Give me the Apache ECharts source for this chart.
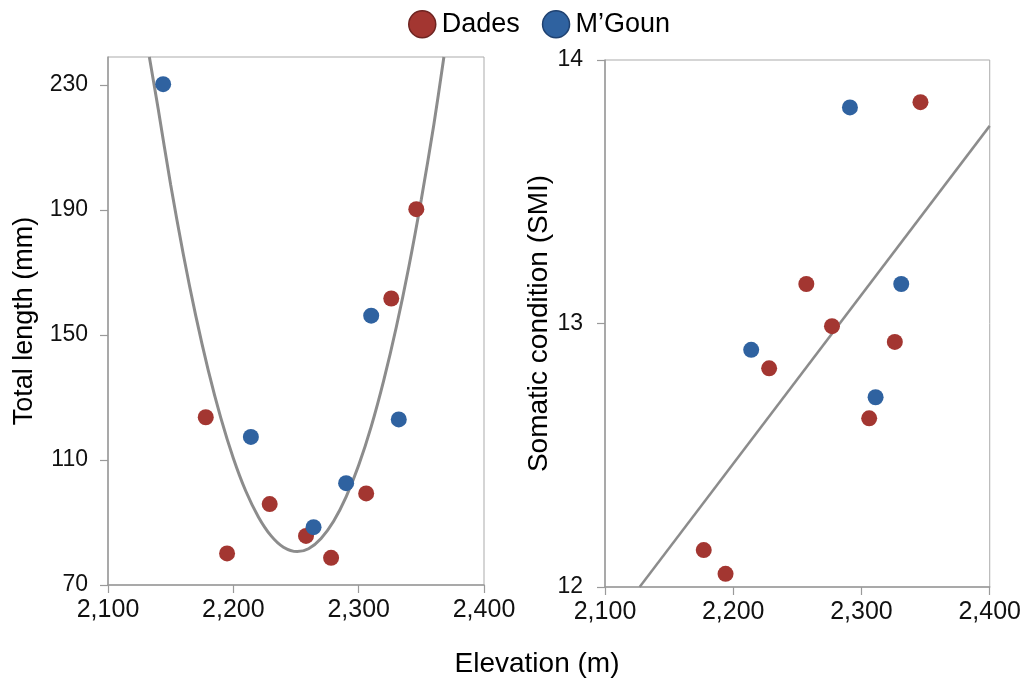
<!DOCTYPE html>
<html>
<head>
<meta charset="utf-8">
<script src="https://cdn.jsdelivr.net/npm/echarts@6/dist/echarts.min.js"></script>
<style>
html,body{margin:0;padding:0;background:#fff;}
#chart{width:1024px;height:686px;}
</style>
</head>
<body>
<div id="chart"></div>
<script>
// ---- Data ----
const seriesNames = ['Dades', 'M\u2019Goun'];

// Left panel: Total length (mm) vs Elevation (m)
const dadesElevLen = [2178, 2195, 2229, 2258, 2278, 2306, 2326, 2346];
const dadesLength  = [123.7, 80.1, 95.9, 85.7, 78.7, 99.3, 161.7, 190.3];
const mgounElevLen = [2144, 2214, 2264, 2290, 2310, 2332];
const mgounLength  = [230.3, 117.4, 88.5, 102.6, 156.2, 123.0];

// Left panel quadratic trend curve
const curveElev = [2133, 2140, 2150, 2160, 2170, 2180, 2190, 2200, 2210, 2220, 2230, 2240, 2251,
                   2260, 2270, 2280, 2290, 2300, 2310, 2320, 2330, 2340, 2350, 2360, 2368];
const curveLen  = [239, 222.5, 198.1, 176.0, 156.2, 138.7, 123.5, 110.6, 100.0, 91.8, 85.8, 82.1, 80.7,
                   81.6, 84.9, 90.4, 98.2, 108.3, 120.7, 135.5, 152.5, 171.8, 193.5, 217.4, 239];

// Right panel: Somatic condition (SMI) vs Elevation (m)
const dadesElevSMI = [2177, 2194, 2228, 2257, 2277, 2306, 2326, 2346];
const dadesSMI     = [12.14, 12.05, 12.83, 13.15, 12.99, 12.64, 12.93, 13.84];
const mgounElevSMI = [2214, 2291, 2311, 2331];
const mgounSMI     = [12.90, 13.82, 12.72, 13.15];

// Right panel linear trend line endpoints
const trendElev = [2127, 2400];
const trendSMI  = [12.0, 13.75];

// Axis settings
const xTicks = [2100, 2200, 2300, 2400];
const lenTicks = [70, 110, 150, 190, 230];
const smiTicks = [12, 13, 14];

const zip = (a, b) => a.map((v, i) => [v, b[i]]);

const RED = '#a33631', BLUE = '#2f62a0';
const AXIS = '#9a9a9a';
const tickFont = 'Liberation Sans, Arial, sans-serif';
const titleFont = 'Liberation Sans, Arial, sans-serif';

function xAxisCfg(gi) {
  return {
    gridIndex: gi, type: 'value', min: xTicks[0], max: xTicks[xTicks.length - 1], interval: 100,
    axisLine: { show: true, onZero: false, lineStyle: { color: AXIS, width: 1.5 } },
    axisTick: { show: true, length: 8, lineStyle: { color: AXIS, width: 1.2 } },
    splitLine: { show: false },
    axisLabel: {
      margin: 13, fontFamily: tickFont, fontSize: 25, color: '#111',
      formatter: v => v.toLocaleString('en-US')
    }
  };
}

const chart = echarts.init(document.getElementById('chart'), null, { renderer: 'canvas' });
chart.setOption({
  animation: false,
  backgroundColor: '#fff',
  legend: {
    left: 403, top: 5, itemWidth: 27, itemHeight: 27, itemGap: 22, icon: 'circle',
    textStyle: { fontFamily: titleFont, fontSize: 27, color: '#000', padding: [0, 0, 0, 1] },
    data: [
      { name: seriesNames[0], itemStyle: { color: RED, borderColor: '#6e2421', borderWidth: 1.5 } },
      { name: seriesNames[1], itemStyle: { color: BLUE, borderColor: '#1f4170', borderWidth: 1.5 } }
    ]
  },
  grid: [
    { left: 108, top: 57, width: 376, height: 528, show: true, borderColor: '#ababab', borderWidth: 1 },
    { left: 605, top: 60, width: 386, height: 527, show: true, borderColor: '#ababab', borderWidth: 1 }
  ],
  xAxis: [xAxisCfg(0), xAxisCfg(1)],
  yAxis: [
    {
      gridIndex: 0, type: 'value', min: lenTicks[0], max: 239, interval: 40,
      name: 'Total length (mm)', nameLocation: 'middle', nameGap: 70, nameRotate: 90,
      nameTextStyle: { fontFamily: titleFont, fontSize: 27, color: '#000' },
      axisLine: { show: true, lineStyle: { color: AXIS, width: 1.5 } },
      axisTick: { show: true, length: 8, lineStyle: { color: AXIS, width: 1.2 } },
      splitLine: { show: false },
      axisLabel: { margin: 20, fontFamily: tickFont, fontSize: 23, color: '#111', showMaxLabel: false,
        formatter: v => (lenTicks.indexOf(v) >= 0 ? String(v) : '') }
    },
    {
      gridIndex: 1, type: 'value', min: smiTicks[0], max: smiTicks[smiTicks.length - 1], interval: 1,
      name: 'Somatic condition (SMI)', nameLocation: 'middle', nameGap: 52, nameRotate: 90,
      nameTextStyle: { fontFamily: titleFont, fontSize: 28, color: '#000' },
      axisLine: { show: true, lineStyle: { color: AXIS, width: 1.5 } },
      axisTick: { show: true, length: 8, lineStyle: { color: AXIS, width: 1.2 } },
      splitLine: { show: false },
      axisLabel: { margin: 22, fontFamily: tickFont, fontSize: 23, color: '#111' }
    }
  ],
  graphic: [{
    type: 'text', x: 537, y: 650, z: 10,
    style: { text: 'Elevation (m)', font: '28px ' + titleFont, fill: '#000', textAlign: 'center', textVerticalAlign: 'top' }
  }],
  series: [
    {
      type: 'line', xAxisIndex: 0, yAxisIndex: 0, data: zip(curveElev, curveLen),
      smooth: 0.3, symbol: 'none', clip: true, silent: true, z: 1,
      lineStyle: { color: '#8c8c8c', width: 3 }
    },
    {
      type: 'line', xAxisIndex: 1, yAxisIndex: 1, data: zip(trendElev, trendSMI),
      symbol: 'none', clip: true, silent: true, z: 1,
      lineStyle: { color: '#8c8c8c', width: 2.5 }
    },
    {
      name: seriesNames[0], type: 'scatter', xAxisIndex: 0, yAxisIndex: 0, symbolSize: 16, z: 3,
      itemStyle: { color: RED, opacity: 1 }, data: zip(dadesElevLen, dadesLength)
    },
    {
      name: seriesNames[1], type: 'scatter', xAxisIndex: 0, yAxisIndex: 0, symbolSize: 16, z: 3,
      itemStyle: { color: BLUE, opacity: 1 }, data: zip(mgounElevLen, mgounLength)
    },
    {
      name: seriesNames[0], type: 'scatter', xAxisIndex: 1, yAxisIndex: 1, symbolSize: 16, z: 3,
      itemStyle: { color: RED, opacity: 1 }, data: zip(dadesElevSMI, dadesSMI)
    },
    {
      name: seriesNames[1], type: 'scatter', xAxisIndex: 1, yAxisIndex: 1, symbolSize: 16, z: 3,
      itemStyle: { color: BLUE, opacity: 1 }, data: zip(mgounElevSMI, mgounSMI)
    }
  ]
});
</script>
</body>
</html>
